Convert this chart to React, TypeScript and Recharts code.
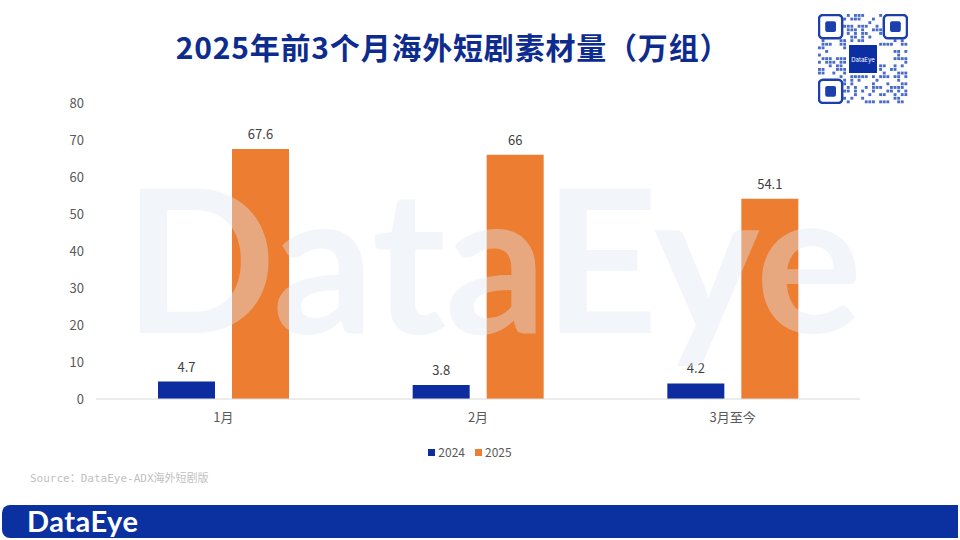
import { BarChart, Bar, XAxis, YAxis, LabelList } from "recharts";

const months = ["1月", "2月", "3月至今"];
const y2024 = [4.7, 3.8, 4.2];
const y2025 = [67.6, 66, 54.1];
const yTicks = [0, 10, 20, 30, 40, 50, 60, 70, 80];

const data = months.map((m, i) => ({ month: m, a: y2024[i], b: y2025[i] }));

const BLUE = "#0d2ca0";
const ORANGE = "#ed7d31";
const CJK = "'Noto Sans CJK SC', 'Noto Sans', sans-serif";

// decorative QR-like block in the corner
function QrBlock() {
  const n = 25;
  const cell = 90 / n;
  const cells: JSX.Element[] = [];
  let seed = 7;
  for (let r = 0; r < n; r++) {
    for (let c = 0; c < n; c++) {
      seed = (seed * 1103515245 + 12345) % 2147483648;
      const inFinder =
        (r < 7 && c < 7) || (r < 7 && c >= n - 7) || (r >= n - 7 && c < 7);
      const inCenter = r >= 8 && r < 17 && c >= 8 && c < 17;
      if (inFinder || inCenter) continue;
      if (seed % 100 < 38)
        cells.push(
          <rect key={r + "-" + c} x={c * cell} y={r * cell} width={cell * 0.8} height={cell * 0.8} fill="#4a6cc8" />
        );
    }
  }
  const finder = (x: number, y: number) => (
    <g key={x + "f" + y}>
      <rect x={x + 1} y={y + 1} width={cell * 7 - 2} height={cell * 7 - 2} rx={4} fill="none" stroke="#1c3fae" strokeWidth={2.5} />
      <rect x={x + cell * 2} y={y + cell * 2} width={cell * 3} height={cell * 3} rx={2} fill="#1c3fae" />
    </g>
  );
  return (
    <svg width={90} height={90} style={{ position: "absolute", left: 818, top: 14 }}>
      {cells}
      {finder(0, 0)}
      {finder(90 - cell * 7, 0)}
      {finder(0, 90 - cell * 7)}
      <rect x={31} y={31} width={28} height={28} fill="#0c2ea3" />
      <text x={45} y={47.5} textAnchor="middle" fontSize={6} fill="#fff" fontFamily="Inter, sans-serif">DataEye</text>
    </svg>
  );
}

export default function App() {
  return (
    <div style={{ position: "absolute", left: 0, top: 0, width: 960, height: 540, background: "#fff", overflow: "hidden" }}>
      <div
        style={{
          position: "absolute",
          left: 0,
          width: 906,
          top: 26,
          textAlign: "center",
          fontFamily: CJK,
          fontWeight: 700,
          fontSize: 30,
          letterSpacing: 0.8,
          color: "#0e2c8e",
          lineHeight: "40px",
        }}
      >
        2025年前3个月海外短剧素材量（万组）
      </div>
      <QrBlock />

      {/* watermark */}
      <div
        style={{
          position: "absolute",
          left: 124,
          top: 181,
          fontFamily: "Lato, 'Open Sans', sans-serif",
          fontWeight: 700,
          fontSize: 200,
          letterSpacing: -1,
          color: "#dfe9f7",
          opacity: 0.4,
          lineHeight: "150px",
          zIndex: 2,
          pointerEvents: "none",
        }}
      >
        DataEye
      </div>

      <div style={{ position: "absolute", left: 0, top: 0, zIndex: 1 }}>
        <BarChart
          width={960}
          height={540}
          data={data}
          margin={{ top: 103, right: 100, bottom: 111, left: 36 }}
          barGap={17}
          barSize={57}
        >
          <XAxis
            dataKey="month"
            tickLine={false}
            axisLine={{ stroke: "#d9d9d9" }}
            tickMargin={8}
            tick={{ fill: "#595959", fontSize: 13, fontFamily: CJK }}
            height={30}
          />
          <YAxis
            domain={[0, 80]}
            ticks={yTicks}
            tickLine={false}
            axisLine={false}
            tickMargin={6}
            width={60}
            tick={{ fill: "#595959", fontSize: 13, fontFamily: CJK }}
          />
          <Bar dataKey="a" name="2024" fill={BLUE} isAnimationActive={false}>
            <LabelList dataKey="a" position="top" offset={10} fill="#404040" fontSize={13} fontFamily={CJK} />
          </Bar>
          <Bar dataKey="b" name="2025" fill={ORANGE} isAnimationActive={false}>
            <LabelList dataKey="b" position="top" offset={10} fill="#404040" fontSize={13} fontFamily={CJK} />
          </Bar>
        </BarChart>
      </div>

      {/* legend */}
      <div
        style={{
          position: "absolute",
          top: 444,
          left: 0,
          width: 940,
          display: "flex",
          justifyContent: "center",
          gap: 10,
          fontFamily: CJK,
          fontSize: 12,
          color: "#595959",
          lineHeight: "16px",
        }}
      >
        <span style={{ display: "flex", alignItems: "center", gap: 3 }}>
          <span style={{ width: 7, height: 7, background: BLUE, display: "inline-block" }} />
          2024
        </span>
        <span style={{ display: "flex", alignItems: "center", gap: 3 }}>
          <span style={{ width: 7, height: 7, background: ORANGE, display: "inline-block" }} />
          2025
        </span>
      </div>

      <div
        style={{
          position: "absolute",
          left: 30,
          top: 469,
          fontFamily: "'DejaVu Sans Mono', 'Noto Sans CJK SC', monospace",
          fontSize: 11,
          color: "#bfbfbf",
        }}
      >
        Source：DataEye-ADX海外短剧版
      </div>

      <div
        style={{
          position: "absolute",
          left: 2,
          top: 505,
          width: 956,
          height: 33,
          background: "#0b30a0",
          borderRadius: "8px 0 0 8px",
        }}
      >
        <div
          style={{
            position: "absolute",
            left: 25,
            top: 1,
            fontFamily: "Lato, 'Open Sans', sans-serif",
            fontWeight: 700,
            fontSize: 29,
            letterSpacing: 0.5,
            color: "#fff",
            lineHeight: "30px",
          }}
        >
          DataEye
        </div>
      </div>
    </div>
  );
}
